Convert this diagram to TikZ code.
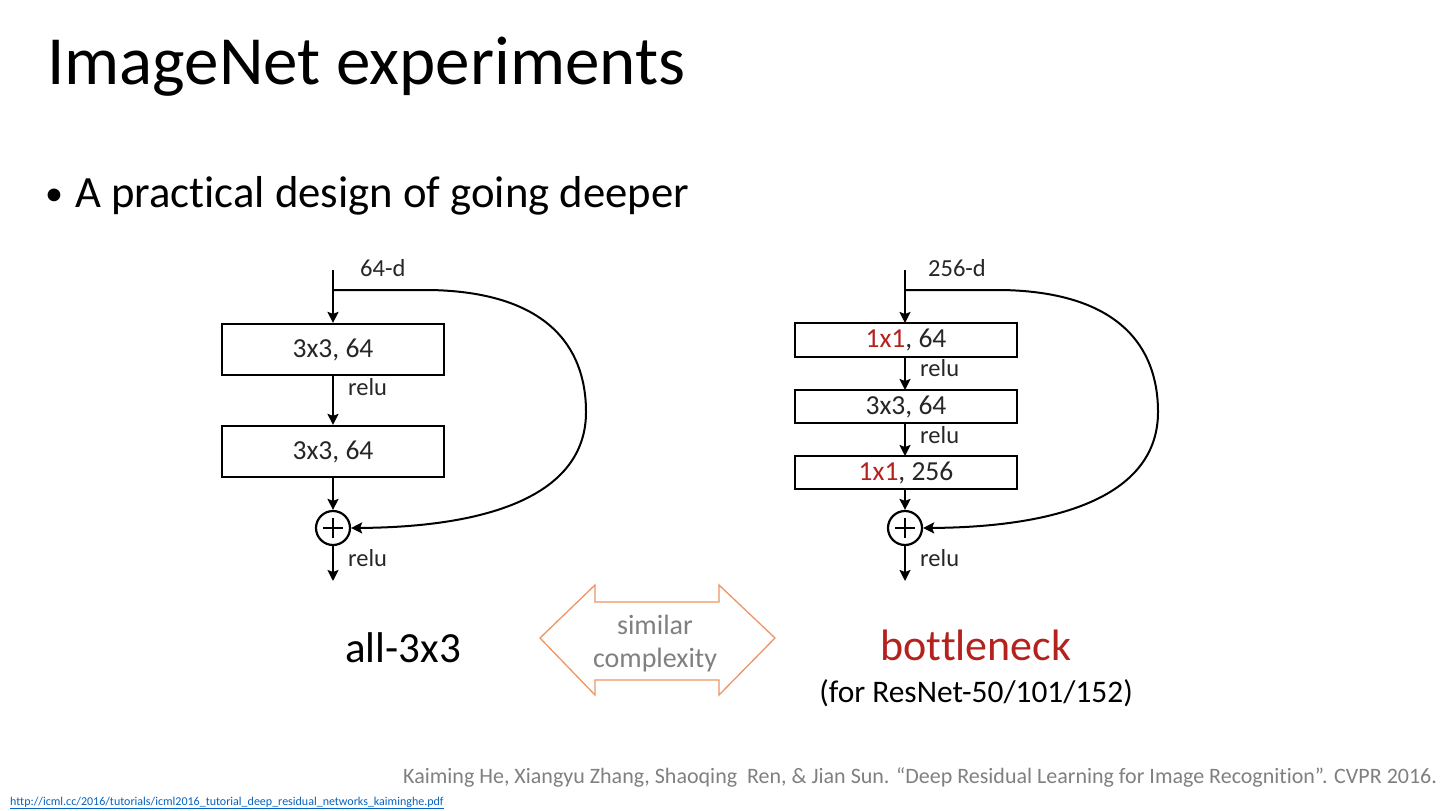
\documentclass[tikz,border=0pt]{standalone}
\usepackage{fontspec}
\setmainfont{Carlito}[Ligatures=NoCommon]
\usetikzlibrary{arrows.meta}
\definecolor{bred}{RGB}{180,34,30}
\definecolor{aorange}{RGB}{237,150,100}
\definecolor{cgray}{RGB}{128,128,128}
\definecolor{linkblue}{RGB}{5,99,193}
\begin{document}
\begin{tikzpicture}[x=1pt,y=-1pt,
  flow/.style={line width=2.2pt,-{Stealth[length=11pt,width=11pt,inset=2pt]}},
  skip/.style={line width=2pt,-{Stealth[length=11pt,width=11pt,inset=2pt]}},
  convbox/.style={draw,line width=2.2pt,minimum width=222pt,inner sep=0pt,font=\fontsize{27.5}{30}\selectfont,text=black!85},
  sumnode/.style={draw,circle,line width=2.2pt,minimum size=34pt,inner sep=0pt,
    path picture={\draw[line width=2pt] ([xshift=-10pt]path picture bounding box.center) -- ([xshift=10pt]path picture bounding box.center);
                  \draw[line width=2pt] ([yshift=-10pt]path picture bounding box.center) -- ([yshift=10pt]path picture bounding box.center);}},
  lbl/.style={anchor=base west,inner sep=0pt,font=\fontsize{24.5}{28}\selectfont,text=black!85}]
\useasboundingbox (0,0) rectangle (1440,811);
\fill[white] (0,0) rectangle (1440,811);

% title
\node[anchor=base west,inner sep=0pt,font=\fontsize{69}{72}\selectfont] (title) at (47,84) {ImageNet experiments};
\node[anchor=base west,inner sep=0pt,font=\fontsize{36}{40}\selectfont] (bdot) at (45,205) {•};
\node[anchor=base west,inner sep=0pt,font=\fontsize{44.7}{48}\selectfont] (bul) at (75,207) {A practical design of going deeper};

% left block
\coordinate (lin) at (333,270);
\coordinate (lsplit) at (333,290);
\node[convbox,minimum height=51pt] (l1) at (333,349.5) {3x3, 64};
\node[convbox,minimum height=51pt] (l2) at (333,451.5) {3x3, 64};
\node[sumnode] (lsum) at (333,528) {};
\coordinate (lout) at (333,581);
\draw[flow] (lin) -- (l1.north);
\draw[flow] (l1.south) -- (l2.north);
\draw[flow] (l2.south) -- (lsum.north);
\draw[flow] (lsum.south) -- (lout);
\draw[skip] (lsplit) -- (430,290) .. controls (545,292) and (586,345) .. (586,412) .. controls (586,490) and (500,527) .. (lsum.east);
\node[lbl] (l64d) at (360,276) {64-d};
\node[lbl] (lr1) at (348,395) {relu};
\node[lbl] (lr2) at (348,566) {relu};
\node[anchor=base,inner sep=0pt,font=\fontsize{43}{46}\selectfont] (all) at (403,662) {all-3x3};

% right block
\coordinate (rin) at (905,270);
\coordinate (rsplit) at (905,290);
\node[convbox,minimum height=34pt] (r1) at (906,340) {\textcolor{bred}{1x1}, 64};
\node[convbox,minimum height=33pt] (r2) at (906,406.5) {3x3, 64};
\node[convbox,minimum height=33pt] (r3) at (906,472.5) {\textcolor{bred}{1x1}, 256};
\node[sumnode] (rsum) at (905,528) {};
\coordinate (rout) at (905,581);
\draw[flow] (rin) -- (905,323);
\draw[flow] (905,357) -- (905,390);
\draw[flow] (905,423) -- (905,456);
\draw[flow] (905,489) -- (rsum.north);
\draw[flow] (rsum.south) -- (rout);
\draw[skip] (rsplit) -- (1002,290) .. controls (1117,292) and (1158,345) .. (1158,412) .. controls (1158,490) and (1072,527) .. (rsum.east);
\node[lbl] (r256d) at (928,276) {256-d};
\node[lbl] (rr1) at (920,376) {relu};
\node[lbl] (rr2) at (920,443) {relu};
\node[lbl] (rr3) at (920,566) {relu};
\node[anchor=base,inner sep=0pt,font=\fontsize{44}{46}\selectfont,text=bred] (bn) at (976,660) {bottleneck};
\node[anchor=base,inner sep=0pt,font=\fontsize{31.4}{34}\selectfont] (for) at (976,702) {(for ResNet-50/101/152)};

% double arrow
\draw[aorange,line width=1.3pt,line join=miter] (540,638) -- (595,585) -- (595,602) -- (719,602) -- (719,585) -- (775,638) -- (719,695) -- (719,680) -- (595,680) -- (595,695) -- cycle;
\node[anchor=base,inner sep=0pt,font=\fontsize{28}{30}\selectfont,text=cgray] (sim) at (655,634) {similar};
\node[anchor=base,inner sep=0pt,font=\fontsize{28}{30}\selectfont,text=cgray] (cx) at (655,667) {complexity};

% citation
\node[anchor=base west,inner sep=0pt,font=\fontsize{22}{24}\selectfont,text=cgray] (cite) at (403,783) {Kaiming He, Xiangyu Zhang, Shaoqing\ \ Ren, \& Jian Sun. “Deep Residual Learning for Image Recognition”. CVPR 2016.};
\node[anchor=base west,inner sep=0pt,font=\fontsize{12}{13}\selectfont,text=linkblue] (url) at (10,805) {\underline{http://icml.cc/2016/tutorials/icml2016\_tutorial\_deep\_residual\_networks\_kaiminghe.pdf}};
\end{tikzpicture}
\end{document}
